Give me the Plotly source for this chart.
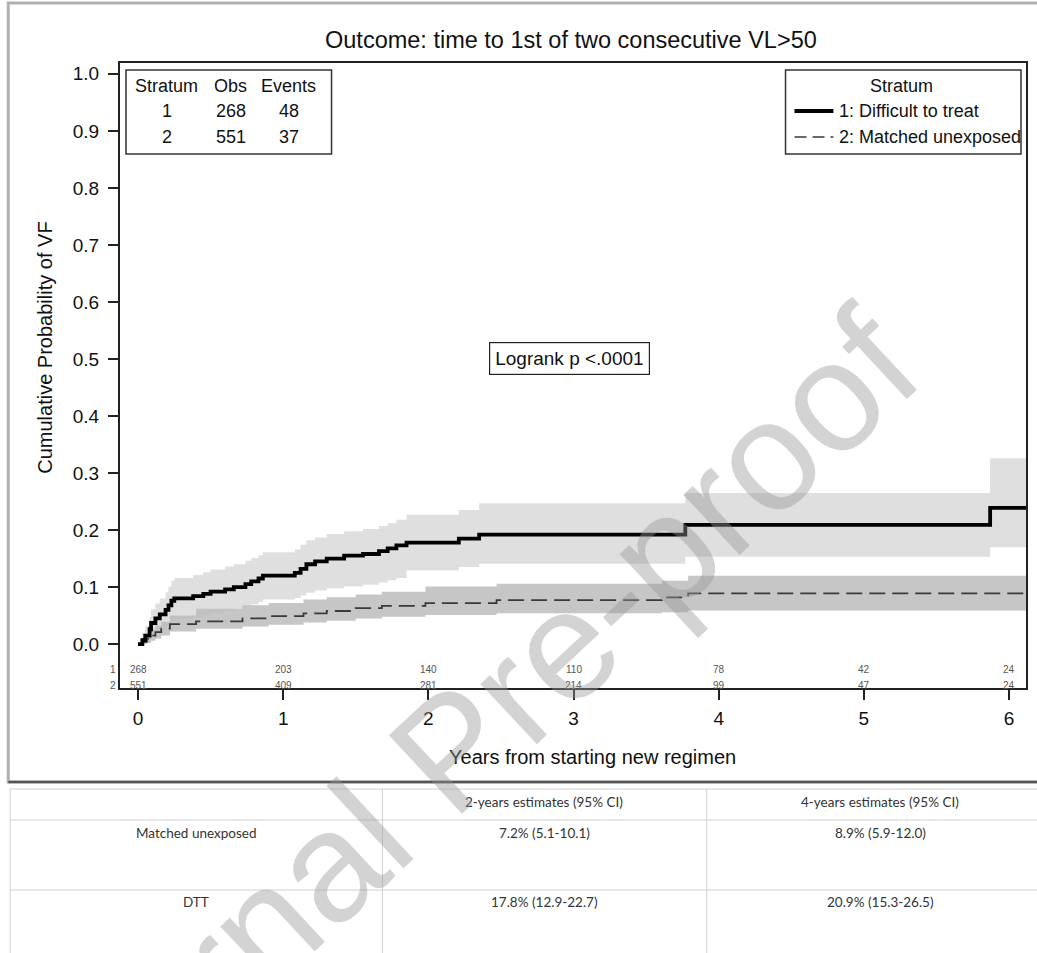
import plotly.graph_objects as go

# ---- Kaplan-Meier style cumulative incidence (step estimates with 95% CI) ----
# Stratum 1: Difficult to treat
dtt_time = [0, 0.03, 0.05, 0.08, 0.09, 0.12, 0.15, 0.19, 0.21, 0.23, 0.25, 0.38, 0.45, 0.50,
            0.60, 0.66, 0.74, 0.78, 0.83, 0.86, 1.08, 1.12, 1.16, 1.22, 1.30, 1.42, 1.55, 1.66,
            1.72, 1.78, 1.85, 2.21, 2.35, 3.77, 5.87]
dtt_est = [0, 0.007, 0.015, 0.026, 0.037, 0.045, 0.052, 0.060, 0.068, 0.076, 0.080, 0.084, 0.088,
           0.092, 0.096, 0.100, 0.105, 0.110, 0.115, 0.120, 0.125, 0.132, 0.140, 0.145, 0.150,
           0.155, 0.158, 0.163, 0.168, 0.173, 0.178, 0.185, 0.192, 0.209, 0.239]
dtt_lo = [0, 0.000, 0.002, 0.008, 0.014, 0.019, 0.024, 0.029, 0.035, 0.041, 0.044, 0.047, 0.051,
          0.055, 0.059, 0.062, 0.066, 0.070, 0.074, 0.078, 0.081, 0.085, 0.090, 0.094, 0.098,
          0.101, 0.104, 0.108, 0.112, 0.116, 0.129, 0.135, 0.141, 0.153, 0.170]
dtt_hi = [0, 0.020, 0.032, 0.048, 0.061, 0.071, 0.080, 0.091, 0.101, 0.111, 0.116, 0.121, 0.126,
          0.131, 0.136, 0.140, 0.146, 0.151, 0.156, 0.161, 0.166, 0.174, 0.182, 0.187, 0.193,
          0.198, 0.202, 0.207, 0.212, 0.218, 0.227, 0.235, 0.247, 0.265, 0.326]

# Stratum 2: Matched unexposed
mu_time = [0, 0.03, 0.06, 0.09, 0.12, 0.16, 0.22, 0.40, 0.72, 0.90, 1.14, 1.30, 1.50, 1.68,
           1.98, 2.47, 3.61, 3.79]
mu_est = [0, 0.004, 0.009, 0.015, 0.021, 0.027, 0.035, 0.040, 0.045, 0.049, 0.054, 0.058, 0.063,
          0.067, 0.072, 0.077, 0.082, 0.089]
mu_lo = [0, 0.000, 0.002, 0.006, 0.010, 0.015, 0.022, 0.027, 0.031, 0.034, 0.038, 0.041, 0.045,
         0.048, 0.051, 0.054, 0.056, 0.059]
mu_hi = [0, 0.010, 0.017, 0.025, 0.032, 0.039, 0.050, 0.062, 0.068, 0.072, 0.078, 0.082, 0.087,
         0.092, 0.101, 0.106, 0.111, 0.120]

t_end = 6.12

# Numbers at risk
risk_years = [0, 1, 2, 3, 4, 5, 6]
risk_s1 = [268, 203, 140, 110, 78, 42, 24]
risk_s2 = [551, 409, 281, 214, 99, 47, 24]

# Summary box
summary_header = ["Stratum", "Obs", "Events"]
summary_rows = [["1", "268", "48"], ["2", "551", "37"]]

# Estimates table under the chart
tab_header = ["", "2-years estimates (95% CI)", "4-years estimates (95% CI)"]
tab_rows = [["Matched unexposed", "7.2% (5.1-10.1)", "8.9% (5.9-12.0)"],
            ["DTT", "17.8% (12.9-22.7)", "20.9% (15.3-26.5)"]]

legend_labels = ["1: Difficult to treat", "2: Matched unexposed"]

# ---- page geometry (pixels) ----
W, H = 1037, 953
L, R, T, B = 120, 1028, 63, 688
FONT = "Liberation Sans, Arial, sans-serif"
TFONT = "Lato, Open Sans, sans-serif"


def px(x):
    return (x - L) / (R - L)


def py(y):
    return (B - y) / (B - T)


def ext(a, last):
    return list(a) + [last]


def label(x, y, text, size, xref="paper", yref="paper", xanchor="center", family=FONT,
          color="#111", **kw):
    return dict(x=x, y=y, xref=xref, yref=yref, text=text, showarrow=False,
                xanchor=xanchor, yanchor="middle",
                font=dict(family=family, size=size, color=color), **kw)


fig = go.Figure()

# confidence bands
fig.add_trace(go.Scatter(x=ext(dtt_time, t_end), y=ext(dtt_lo, dtt_lo[-1]), mode="lines",
                         line=dict(width=0, shape="hv"), hoverinfo="skip", showlegend=False))
fig.add_trace(go.Scatter(x=ext(dtt_time, t_end), y=ext(dtt_hi, dtt_hi[-1]), mode="lines",
                         line=dict(width=0, shape="hv"), fill="tonexty",
                         fillcolor="#dfdfdf", hoverinfo="skip", showlegend=False))
fig.add_trace(go.Scatter(x=ext(mu_time, t_end), y=ext(mu_lo, mu_lo[-1]), mode="lines",
                         line=dict(width=0, shape="hv"), hoverinfo="skip", showlegend=False))
fig.add_trace(go.Scatter(x=ext(mu_time, t_end), y=ext(mu_hi, mu_hi[-1]), mode="lines",
                         line=dict(width=0, shape="hv"), fill="tonexty",
                         fillcolor="rgba(188,188,188,0.85)", hoverinfo="skip", showlegend=False))

# step curves
fig.add_trace(go.Scatter(x=ext(mu_time, t_end), y=ext(mu_est, mu_est[-1]), mode="lines",
                         line=dict(color="#3a3a3a", width=1.8, shape="hv", dash="16px,7px"),
                         name=legend_labels[1], showlegend=False))
fig.add_trace(go.Scatter(x=ext(dtt_time, t_end), y=ext(dtt_est, dtt_est[-1]), mode="lines",
                         line=dict(color="#000000", width=3.8, shape="hv"),
                         name=legend_labels[0], showlegend=False))

ann = []
shapes = []

# numbers at risk inside the bottom of the plot
for yr, a, b in zip(risk_years, risk_s1, risk_s2):
    ann.append(label(yr, -0.044, str(a), 10, xref="x", yref="y", color="#555"))
    ann.append(label(yr, -0.072, str(b), 10, xref="x", yref="y", color="#555"))
ann.append(label(px(113), -0.044, "1", 10, yref="y", color="#555"))
ann.append(label(px(113), -0.072, "2", 10, yref="y", color="#555"))

# title and axis titles
ann.append(label(px(572), py(40), "Outcome: time to 1st of two consecutive VL>50", 23.5))
ann.append(label(px(44), 0.52, "Cumulative Probability of VF", 20, yref="y", textangle=-90))
ann.append(label(px(594), py(757), "Years from starting new regimen", 20))

# log-rank box
ann.append(label(2.97, 0.5, "Logrank p <.0001", 19, xref="x", yref="y",
                 bordercolor="#222", borderwidth=1.2, borderpad=5, bgcolor="white"))

# summary box (top-left)
shapes.append(dict(type="rect", xref="paper", yref="paper", x0=px(126), x1=px(332), y0=py(70), y1=py(154),
                   line=dict(color="#333", width=1.5)))
col_x = [167, 231, 289]
for cx, txt in zip(col_x, summary_header):
    ann.append(label(px(cx), py(86), txt, 18))
for ry, row in zip([111, 137], summary_rows):
    for cx, txt in zip(col_x, row):
        ann.append(label(px(cx), py(ry), txt, 18))

# legend box (top-right)
shapes.append(dict(type="rect", xref="paper", yref="paper", x0=px(787), x1=px(1023), y0=py(70), y1=py(154),
                   line=dict(color="#333", width=1.5)))
ann.append(label(px(903), py(86), "Stratum", 18))
shapes.append(dict(type="line", xref="paper", yref="paper", x0=px(796), x1=px(835), y0=py(111), y1=py(111),
                   line=dict(color="#000", width=3.8)))
shapes.append(dict(type="line", xref="paper", yref="paper", x0=px(796), x1=px(835), y0=py(137), y1=py(137),
                   line=dict(color="#3a3a3a", width=1.5, dash="12px,6px")))
for ry, txt in zip([111, 137], legend_labels):
    ann.append(label(px(839), py(ry), txt, 18, xanchor="left"))

# outer frame of the graphic and the estimates table underneath
shapes.append(dict(type="rect", xref="paper", yref="paper", x0=px(8), x1=px(1045), y0=py(3), y1=py(782),
                   line=dict(color="#b0b0b0", width=3), layer="below"))
shapes.append(dict(type="line", xref="paper", yref="paper", x0=px(8), x1=px(1045), y0=py(782), y1=py(782),
                   line=dict(color="#555", width=2.5)))
for yy in [789, 820, 890]:
    shapes.append(dict(type="line", xref="paper", yref="paper", x0=px(10), x1=px(1045), y0=py(yy), y1=py(yy),
                       line=dict(color="#d0d0d0", width=1)))
for xx in [10, 383, 708]:
    shapes.append(dict(type="line", xref="paper", yref="paper", x0=px(xx), x1=px(xx), y0=py(789), y1=py(953),
                       line=dict(color="#d0d0d0", width=1)))
tab_cols = [196, 545, 882]
for cx, txt in zip(tab_cols, tab_header):
    if txt:
        ann.append(label(px(cx), py(802), txt, 13.5, family=TFONT, color="#333"))
for ry, row in zip([833, 902], tab_rows):
    for cx, txt in zip(tab_cols, row):
        ann.append(label(px(cx), py(ry), txt, 13.5, family=TFONT, color="#333"))

# publisher watermark
ann.append(label(px(452), py(750), "Journal Pre-proof", 156, textangle=-43,
                 color="rgba(150,150,150,0.42)"))

fig.update_layout(
    width=W, height=H,
    margin=dict(l=L, r=W - R, t=T, b=H - B),
    paper_bgcolor="white", plot_bgcolor="white",
    annotations=ann, shapes=shapes,
    showlegend=False,
)
fig.update_xaxes(range=[-0.124, 6.117], tickvals=risk_years, ticks="outside", ticklen=10, tickwidth=1.5,
                 tickcolor="#222", showline=True, linecolor="#222", linewidth=2, mirror=True,
                 showgrid=False, zeroline=False, ticklabelstandoff=2,
                 tickfont=dict(family=FONT, size=19, color="#111"))
fig.update_yaxes(range=[-0.077, 1.019], tickvals=[0, 0.1, 0.2, 0.3, 0.4, 0.5, 0.6, 0.7, 0.8, 0.9, 1.0],
                 ticktext=["0.0", "0.1", "0.2", "0.3", "0.4", "0.5", "0.6", "0.7", "0.8", "0.9", "1.0"],
                 ticks="outside", ticklen=10, tickwidth=1.5, tickcolor="#222",
                 showline=True, linecolor="#222", linewidth=2, mirror=True,
                 showgrid=False, zeroline=False, ticklabelstandoff=5,
                 tickfont=dict(family=FONT, size=19, color="#111"))

fig.write_html("out.html")
